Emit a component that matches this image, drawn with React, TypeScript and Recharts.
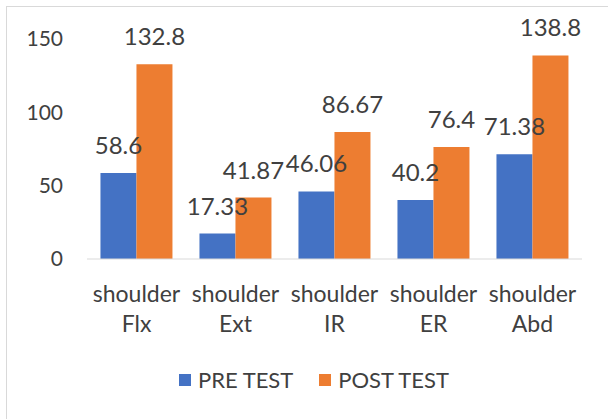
import React from "react";
import {
  BarChart,
  Bar,
  XAxis,
  YAxis,
  LabelList,
  Legend,
} from "recharts";

// category names (two lines each) and the two test series
const movementTop = ["shoulder", "shoulder", "shoulder", "shoulder", "shoulder"];
const movementBottom = ["Flx", "Ext", "IR", "ER", "Abd"];
const preTest = [58.6, 17.33, 46.06, 40.2, 71.38];
const postTest = [132.8, 41.87, 86.67, 76.4, 138.8];
const yTicks = [0, 50, 100, 150];
const seriesOrder = ["PRE TEST", "POST TEST"];

const FONT = "Lato, 'Open Sans', sans-serif";
const TEXT = "#404040";

const data = movementBottom.map((m, i) => ({
  name: `${movementTop[i]} ${m}`,
  pre: preTest[i],
  post: postTest[i],
}));

// two-line category tick, like the wrapped Excel labels
function CategoryTick(props: any) {
  const { x, y, payload, index } = props;
  return (
    <text
      x={x}
      y={y}
      textAnchor="middle"
      fill={TEXT}
      fontFamily={FONT}
      fontSize={23}
    >
      <tspan x={x} dy={35}>{movementTop[index] ?? payload.value}</tspan>
      <tspan x={x} dy={30}>{movementBottom[index]}</tspan>
    </text>
  );
}

function LegendRow(props: any) {
  const items = [...(props.payload || [])].sort(
    (a: any, b: any) => seriesOrder.indexOf(a.value) - seriesOrder.indexOf(b.value)
  );
  return (
    <div
      style={{
        display: "flex",
        justifyContent: "center",
        alignItems: "center",
        fontFamily: FONT,
        fontSize: 22,
        color: TEXT,
        lineHeight: "24px",
        paddingLeft: 46,
      }}
    >
      {items.map((it: any, i: number) => (
        <div
          key={it.value}
          style={{
            display: "flex",
            alignItems: "center",
            marginLeft: i === 0 ? 0 : 26,
          }}
        >
          <span
            style={{
              width: 12,
              height: 12,
              background: it.color,
              display: "inline-block",
              marginRight: 7,
            }}
          />
          <span>{it.value}</span>
        </div>
      ))}
    </div>
  );
}

export default function App() {
  return (
    <div style={{ position: "absolute", left: 0, top: 0, width: 608, height: 419, background: "#fff", overflow: "hidden" }}>
      {/* chart frame, cut off at the right and bottom like the reference */}
      <div
        style={{
          position: "absolute",
          left: 6,
          top: 6,
          width: 620,
          height: 430,
          border: "1px solid #d9d9d9",
        }}
      />
      <div style={{ position: "absolute", left: 0, top: 0 }}>
        <BarChart
          width={608}
          height={419}
          data={data}
          margin={{ top: 39, right: 26, left: 0, bottom: 27 }}
          barCategoryGap="13.6%"
          barGap={0}
        >
          <XAxis
            dataKey="name"
            axisLine={{ stroke: "#d9d9d9" }}
            tickLine={false}
            interval={0}
            height={109}
            tick={<CategoryTick />}
          />
          <YAxis
            domain={[0, 150]}
            ticks={yTicks}
            axisLine={false}
            tickLine={false}
            width={87}
            tickMargin={18}
            tick={{ fill: TEXT, fontSize: 21, fontFamily: FONT }}
          />
          <Legend verticalAlign="bottom" content={<LegendRow />} />
          <Bar dataKey="pre" name="PRE TEST" fill="#4472C4" isAnimationActive={false}>
            <LabelList
              dataKey="pre"
              position="top"
              offset={19}
              fill={TEXT}
              fontSize={24}
              fontFamily={FONT}
            />
          </Bar>
          <Bar dataKey="post" name="POST TEST" fill="#ED7D31" isAnimationActive={false}>
            <LabelList
              dataKey="post"
              position="top"
              offset={19}
              fill={TEXT}
              fontSize={24}
              fontFamily={FONT}
            />
          </Bar>
        </BarChart>
      </div>
    </div>
  );
}
